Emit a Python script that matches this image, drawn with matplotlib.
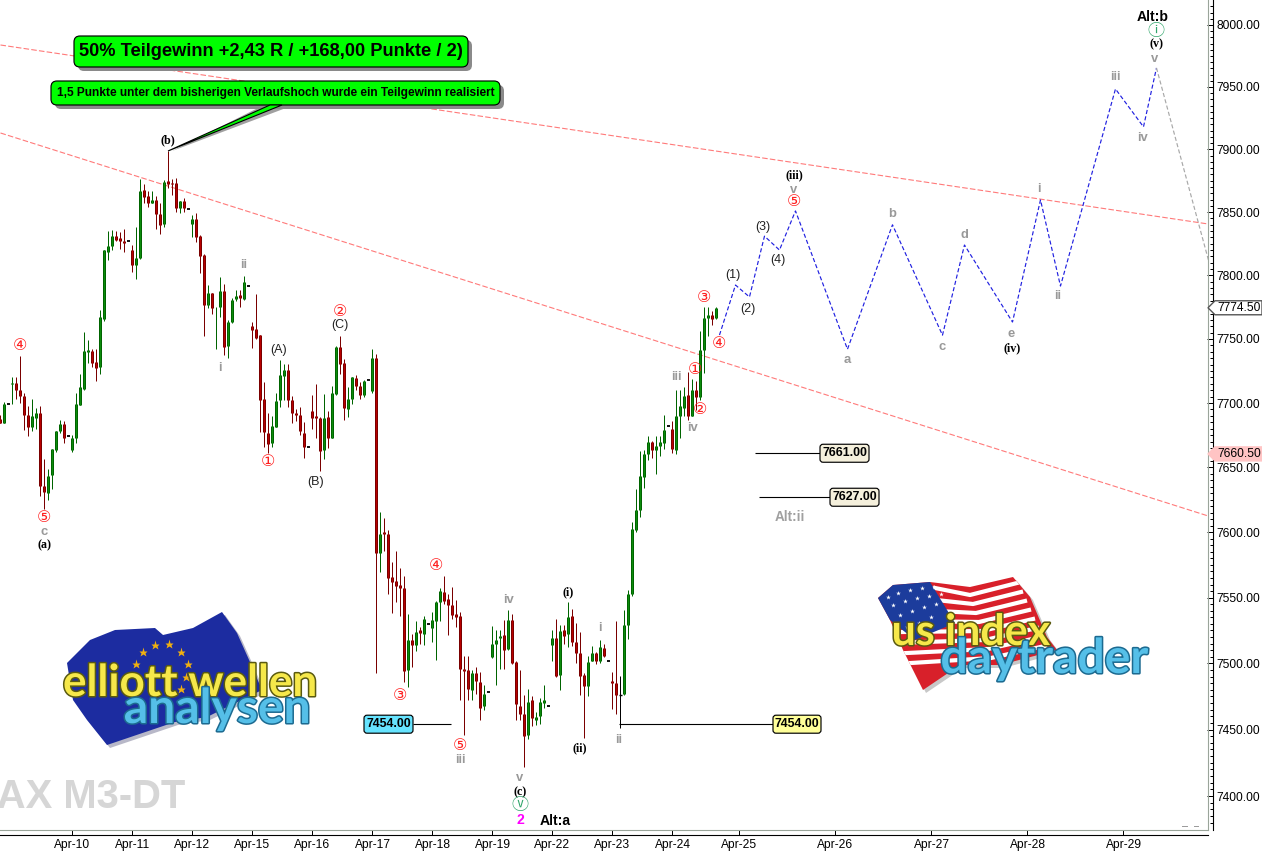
import matplotlib
matplotlib.use('Agg')
import matplotlib.pyplot as plt
import matplotlib.patheffects as pe
from matplotlib.lines import Line2D
from matplotlib.patches import Polygon, FancyBboxPatch
from matplotlib.ticker import NullFormatter
from matplotlib.transforms import Affine2D

# 15 minute style bars, one value per bar
opens = [7687.5,7684.5,7699.5,7714.5,7715.5,7710.5,7705.5,7690.5,7681,7688.5,
         7692,7635.5,7630.5,7644,7663.5,7678.5,7683.5,7674,7663.5,7673,
         7698.5,7711,7739.5,7740.5,7732,7728,7765.5,7818.5,7823,7831.5,
         7829.5,7827.5,7827,7820,7808.5,7813.5,7868,7862.5,7857,7860,
         7848.5,7841,7874.5,7873.5,7873,7853,7858.5,7852.5,7840.5,7844.5,
         7831.5,7816,7776.5,7786,7774,7775.5,7787.5,7744.5,7763,7781.5,
         7784.5,7781.5,7792,7760,7758,7753,7703.5,7677,7669,7681.5,
         7702,7721,7725.5,7702.5,7692,7690.5,7676.5,7665.5,7694,7690,
         7688.5,7663.5,7689,7673,7707,7744,7731,7695.5,7703,7719.5,
         7713,7706,7718,7709,7735,7584,7600.5,7599,7566,7562.5,
         7559.5,7557.5,7495,7517.5,7514,7525,7522,7530,7527,7532.5,
         7546.5,7554.5,7549,7544.5,7537.5,7536,7496,7495,7480,7493,
         7486,7467.5,7478.5,7505,7515,7519.5,7521.5,7511,7533,7501,
         7468,7461.5,7445.5,7472,7457,7460,7470,7468,7514,7519,
         7491.5,7525.5,7522,7536,7516,7508,7491.5,7483,7501.5,7508,
         7502,7512,7502,7487,7485,7476,7477,7529,7553,7602,
         7617,7643,7660.5,7669.5,7663.5,7666.5,7669,7682,7680,7663.5,
         7690,7696,7706,7690,7710.5,7704.5,7741.5,7766.5,7769,7766.5]
highs = [7691,7700.5,7699.5,7720.5,7720.5,7736.5,7708,7697.5,7703,7696,
         7697.5,7656.5,7648.5,7664.5,7678,7687,7686,7674,7675,7707.5,
         7723,7755.5,7749,7742,7742,7772.5,7820,7835,7835.5,7835,
         7834.5,7836.5,7827,7824,7838,7876.5,7872,7867,7866.5,7862.5,
         7857.5,7875.5,7898.5,7876,7877,7859,7861.5,7852.5,7848,7849,
         7832,7816.5,7792.5,7786.5,7775,7799,7793.5,7765,7782,7788.5,
         7788.5,7799.5,7792,7763.5,7785.5,7753.5,7716,7692,7690,7707.5,
         7733.5,7730.5,7730.5,7705.5,7695,7697,7685.5,7665.5,7706.5,7715,
         7689,7707,7693.5,7713,7744.5,7752.5,7734.5,7712.5,7720.5,7721.5,
         7716.5,7718,7718,7742,7738.5,7615.5,7611,7602,7577.5,7586,
         7572.5,7566.5,7537.5,7522.5,7532,7527.5,7536,7530,7539,7547.5,
         7557.5,7566.5,7553,7558,7548,7539,7505.5,7505.5,7495,7497.5,
         7493.5,7483.5,7478.5,7528,7525.5,7525,7533,7540.5,7537.5,7501.5,
         7495,7476,7480.5,7475,7463.5,7473.5,7483.5,7468,7525,7534,
         7529,7529,7546.5,7541,7530.5,7523.5,7492.5,7505.5,7513,7508.5,
         7518,7515,7502,7493.5,7532,7490.5,7540.5,7555.5,7608,7633.5,
         7663,7663.5,7674.5,7670.5,7674.5,7674.5,7690.5,7682,7686,7710.5,
         7710,7712.5,7724,7719,7717.5,7756,7775,7775.5,7772,7775]
lows = [7684.5,7684.5,7699.5,7699.5,7703,7700,7679,7674,7678.5,7679.5,
        7628,7618,7624.5,7633.5,7662,7676.5,7669,7674,7662,7669,
        7698.5,7710.5,7731,7728,7717.5,7723,7764,7812,7820,7827,
        7821,7818.5,7827,7802.5,7797.5,7813,7857,7854,7857,7837,
        7833,7838.5,7869.5,7863.5,7850,7849,7850,7852.5,7830.5,7826,
        7801.5,7752,7774,7769.5,7742.5,7767.5,7737.5,7735.5,7762.5,7780,
        7775,7781,7792,7743,7750,7677.5,7666,7661,7666,7681,
        7697,7702.5,7697,7684.5,7686,7675,7657.5,7665.5,7679.5,7673,
        7647.5,7656.5,7665,7673,7706.5,7722.5,7686.5,7689.5,7699.5,7710,
        7703.5,7705,7718,7707.5,7492.5,7569.5,7586,7553,7538.5,7547,
        7536,7486,7482,7497.5,7509,7515,7514,7530,7516,7502.5,
        7532.5,7545.5,7521.5,7533.5,7527.5,7472.5,7445.5,7472,7472.5,7477,
        7457,7465,7478.5,7504,7483.5,7496,7496,7510.5,7499.5,7457,
        7457,7421.5,7443,7453,7453.5,7454,7466,7468,7502,7490,
        7480,7514.5,7512.5,7513.5,7500.5,7476,7443.5,7475.5,7501.5,7499.5,
        7500.5,7504.5,7502,7465.5,7462,7451,7476,7518.5,7551,7600,
        7612,7634.5,7655.5,7657.5,7645,7659,7664.5,7682,7661,7660.5,
        7673,7690,7687,7690,7694.5,7702,7723.5,7752,7761,7766]
closes = [7684.5,7699.5,7699.5,7715.5,7710,7705.5,7691,7681,7690,7692,
          7636,7631,7643.5,7664,7678,7684,7673,7674,7673,7699.5,
          7712.5,7740.5,7741.5,7731.5,7727,7767,7820,7823.5,7831.5,7828,
          7827,7825.5,7827,7808.5,7813.5,7867,7862,7857,7860,7848.5,
          7840,7874,7872,7872,7853,7858.5,7853,7852.5,7844.5,7830,
          7815,7777,7786.5,7774,7774.5,7787.5,7744,7763.5,7781,7783.5,
          7782,7795,7792,7757,7751,7702.5,7677.5,7668,7682,7701.5,
          7722,7725.5,7702,7692.5,7691,7678.5,7666,7665.5,7688,7688,
          7663,7688,7673,7707.5,7744,7730.5,7696.5,7703,7720,7713,
          7706,7717,7718,7735,7584,7599,7599,7565,7562,7558.5,
          7557.5,7494.5,7517.5,7514,7523.5,7523,7534,7530,7533,7546.5,
          7555,7547.5,7544,7537,7535,7495.5,7494.5,7480.5,7492.5,7486.5,
          7466.5,7477,7478.5,7515,7518,7520.5,7510.5,7533,7500,7469,
          7461.5,7445,7471,7458.5,7459.5,7470.5,7472,7468,7519,7490.5,
          7524.5,7521,7535,7516.5,7507.5,7490.5,7482.5,7501,7507.5,7502,
          7512.5,7505.5,7502,7485,7476,7476,7529,7553,7602.5,7617.5,
          7643.5,7660.5,7669.5,7663.5,7667,7670,7679,7682,7664.5,7690,
          7697.5,7705.5,7690,7710.5,7704.5,7741.5,7766.5,7769,7765.5,7774.5]

# projected wave path (x in bars)
wave_x = [179.75,183.75,187.25,191,194.75,198.75,211.75,223,235.5,241,253,260,265,278.75,285.75,289]
wave_p = [7753.1,7792.4,7783,7831,7820,7851,7742,7840,7753,7824,7763.3,7859.7,7791.6,7948.4,7918,7965.3]
alt_x = [289,302]
alt_p = [7965.3,7812]

# trend lines
trend1_x = [0,302]
trend1_p = [7983.8,7840.6]
trend2_x = [0,302]
trend2_p = [7913.1,7612.5]

# price axis
price_ticks = [8000,7950,7900,7850,7800,7750,7700,7650,7600,7550,7500,7450,7400]
price_minor = list(range(7380,8020,5))
date_labels = ['Apr-10','Apr-11','Apr-12','Apr-15','Apr-16','Apr-17','Apr-18','Apr-19','Apr-22',
               'Apr-23','Apr-24','Apr-25','Apr-26','Apr-27','Apr-28','Apr-29']
date_bars = [18,33,48,63,78,93,108,123,138,153,168,184.75,208.75,232.75,256.75,280.75]

W, H = 1262, 852
SANS = 'Liberation Sans'
SERIF = 'Liberation Serif'
CIRCLED = ['Noto Sans CJK JP', 'DejaVu Sans']

def fpx(px):
    # font size for a height given in pixels
    return px * 0.72

fig = plt.figure(figsize=(W / 100, H / 100), dpi=100, facecolor='white')
ax = fig.add_axes([0, (H - 830) / H, 1208 / W, 830 / H])
ax.set_yscale('log')
ax.set_ylim(7374.7, 8020.2)
ax.set_xlim(-0.12, 301.88)

# pixel coordinates, origin top left like the screenshot
PX = Affine2D().scale(1, -1).translate(0, H)

# trend lines under everything
ax.plot(trend1_x, trend1_p, color='#ff7a7a', lw=0.8, dashes=(5, 2), zorder=1)
ax.plot(trend2_x, trend2_p, color='#ff7a7a', lw=0.8, dashes=(5, 2), zorder=1)

# candles
for i in range(len(opens)):
    o, h, l, c = opens[i], highs[i], lows[i], closes[i]
    if h == l:
        ax.hlines(c, i - 0.4, i + 0.4, color='black', lw=1.3, zorder=3)
        continue
    if o == c:
        ax.vlines(i, l, h, color='black', lw=0.72, zorder=3, snap=True)
        ax.hlines(c, i - 0.3, i + 0.3, color='black', lw=1.0, zorder=3)
        continue
    if c > o:
        edge, fill = '#006400', '#0c8c0c'
    else:
        edge, fill = '#7a0000', '#b80000'
    ax.vlines(i, l, h, color=edge, lw=0.72, zorder=2, snap=True)
    ax.vlines(i, min(o, c), max(o, c), color=edge, lw=2.16, zorder=3, snap=True, capstyle='butt')
    ax.vlines(i, min(o, c), max(o, c), color=fill, lw=0.72, zorder=3.1, snap=True, capstyle='butt')

# forecast
ax.plot(wave_x, wave_p, color='#2020e0', lw=0.85, dashes=(3.5, 2), zorder=4)
ax.plot(alt_x, alt_p, color='#a8a8a8', lw=0.85, dashes=(3.5, 2), zorder=4, clip_on=False)

# axes
for s in ['top', 'left']:
    ax.spines[s].set_visible(False)
ax.spines['right'].set_position(('outward', 3.6))
ax.spines['bottom'].set_position(('outward', 3.6))
ax.yaxis.tick_right()
ax.set_yticks(price_ticks, ['%.2f' % p for p in price_ticks])
ax.set_yticks(price_minor, minor=True)
ax.yaxis.set_minor_formatter(NullFormatter())
ax.set_xticks(date_bars, date_labels)
ax.tick_params(axis='y', which='major', direction='in', length=4.3, width=0.72, pad=2.6, labelsize=fpx(12))
ax.tick_params(axis='y', which='minor', direction='in', length=2.2, width=0.72)
ax.tick_params(axis='x', direction='in', length=3.6, width=0.72, pad=3, labelsize=fpx(12))
for lab in ax.get_xticklabels() + ax.get_yticklabels():
    lab.set_family(SANS)
fig.add_artist(Line2D([0, 1208], [830, 830], color='#9aa59a', lw=0.8, transform=PX))
fig.add_artist(Line2D([1208, 1208], [0, 830], color='#9aa59a', lw=0.8, transform=PX))
fig.add_artist(Line2D([1182, 1187], [826, 826], color='#999999', lw=0.7, transform=PX))
fig.add_artist(Line2D([1194, 1198], [826, 826], color='#999999', lw=0.7, transform=PX))


def label(x, y, s, color='black', size=12, family=SANS, weight='normal', ha='center', z=6):
    fig.text(x, y, s, color=color, fontsize=fpx(size), family=family, weight=weight,
             ha=ha, va='center', transform=PX, zorder=z)

def red(x, y, s):
    label(x, y, s, color='#ff2020', size=16, family='DejaVu Sans')

def grey(x, y, s):
    label(x, y, s, color='#999999', size=13, weight='bold')

def serif(x, y, s):
    label(x, y, s, size=12, family=SERIF, weight='bold')

def plain(x, y, s):
    label(x, y, s, color='#222222', size=12.5)

# wave counts
for x, y, s in [(20, 346, '④'), (44, 517, '⑤'), (340, 311, '②'), (268, 462, '①'), (400, 696, '③'),
                (436, 565, '④'), (460, 745, '⑤'), (695, 370, '①'), (700, 409, '②'), (704, 297, '③'),
                (719, 343, '④'), (794, 202, '⑤')]:
    red(x, y, s)
for x, y, s in [(44, 532, 'c'), (244, 265, 'ii'), (220, 368, 'i'), (460, 760, 'iii'), (508, 600, 'iv'),
                (520, 778, 'v'), (600, 628, 'i'), (619, 740, 'ii'), (676, 377, 'iii'), (692, 428, 'iv'),
                (794, 190, 'v'), (847, 360, 'a'), (892, 214, 'b'), (942, 347, 'c'), (964, 235, 'd'),
                (1011, 334, 'e'), (1039, 189, 'i'), (1058, 296, 'ii'), (1115, 77, 'iii'), (1143, 138, 'iv'),
                (1155, 59, 'v')]:
    grey(x, y, s)
for x, y, s in [(44, 545, '(a)'), (168, 140, '(b)'), (520, 792, '(c)'), (568, 592, '(i)'), (580, 748, '(ii)'),
                (794, 175, '(iii)'), (1012, 348, '(iv)'), (1156, 44, '(v)')]:
    serif(x, y, s)
for x, y, s in [(279, 350, '(A)'), (340, 325, '(C)'), (316, 482, '(B)'), (733, 275, '(1)'), (748, 309, '(2)'),
                (763, 227, '(3)'), (778, 260, '(4)')]:
    plain(x, y, s)
label(520, 805, 'ⓥ', color='#2fa56a', size=17, family=CIRCLED)
label(1156, 31, 'ⓘ', color='#2fa56a', size=17, family=CIRCLED)
label(520, 820, '2', color='#ff00ff', size=14, weight='bold')
label(555, 821, 'Alt:a', size=14, weight='bold')
label(1153, 17, 'Alt:b', size=14, weight='bold')
label(790, 517, 'Alt:ii', color='#a0a0a0', size=13.5, weight='bold')

# watermark, left part runs off the picture
label(185, 797, 'DAX M3-DT', color='#d6d6d6', size=40, weight='bold', ha='right', z=1)


def box(x0, y0, x1, y1, fc, r=4, shadow=0, z=7):
    if shadow:
        fig.add_artist(FancyBboxPatch((x0 + shadow, y0 + shadow), x1 - x0, y1 - y0, boxstyle='round,pad=0,rounding_size=%s' % r,
                                      fc='#8a8a8a', ec='none', transform=PX, zorder=z - 0.5))
    fig.add_artist(FancyBboxPatch((x0, y0), x1 - x0, y1 - y0, boxstyle='round,pad=0,rounding_size=%s' % r,
                                  fc=fc, ec='black', lw=0.85, transform=PX, zorder=z))

# callouts
fig.add_artist(Polygon([[172, 151], [286, 108], [262, 106]], closed=True, fc='#a0a0a0', ec='none', transform=PX, zorder=6))
box(74, 36, 468, 67, '#00ff00', r=6, shadow=4)
label(271, 51.5, '50% Teilgewinn +2,43 R / +168,00 Punkte / 2)', size=18.3, weight='bold', z=8)
box(51, 81, 500, 105, '#00ff00', r=6, shadow=4)
fig.add_artist(Polygon([[168, 151], [282, 105], [270, 105]], closed=True, fc='#00ff00', ec='black', lw=0.8, transform=PX, zorder=8))
label(275.5, 93, '1,5 Punkte unter dem bisherigen Verlaufshoch wurde ein Teilgewinn realisiert', size=11.9, weight='bold', z=8)


def level(price, x0, x1, box_x0, box_x1, fc):
    ax.hlines(price, x0 / 4, x1 / 4, color='black', lw=0.8, zorder=5)
    y = H - ax.transData.transform((0, price))[1]
    box(box_x0, y - 9, box_x1, y + 9, fc, r=3)
    label((box_x0 + box_x1) / 2, y, '%.2f' % price, size=12.4, weight='bold', z=8)

level(7454.0, 413, 451, 364, 413, '#66e4ff')
level(7454.0, 619, 775, 773, 821, '#ffff99')
level(7661.0, 755, 820, 820, 869, '#f5f0dc')
level(7627.0, 759, 830, 830, 879, '#f5f0dc')


def price_tag(price, fc, ec):
    y = H - ax.transData.transform((0, price))[1]
    fig.add_artist(Polygon([[1208, y], [1215, y - 7], [1262, y - 7], [1262, y + 7], [1215, y + 7]], closed=True,
                           fc=fc, ec=ec, lw=1.0, transform=PX, zorder=5))
    label(1217, y, '%.2f' % price, size=12, ha='left', z=6)

price_tag(7774.5, 'white', '#555555')
price_tag(7660.5, '#ffc4c4', '#ffc4c4')


def shape(points, fc, z=1.5, clip=None):
    p = Polygon(points, closed=True, fc=fc, ec='none', transform=PX, zorder=z)
    fig.add_artist(p)
    return p

def logo_text(x, y, s, fc, ec, size, ha='center'):
    t = fig.text(x, y, s, color=fc, fontsize=fpx(size), family='Lato', weight='bold', ha='center', va='center',
                 transform=PX, zorder=2.5)
    t.set_path_effects([pe.withStroke(linewidth=2.2, foreground=ec)])

# left logo
eu_flag = [[67, 663], [90, 640], [115, 630], [155, 628], [163, 635], [193, 628], [222, 612], [237, 633], [250, 662],
           [262, 690], [207, 717], [175, 722], [107, 745], [87, 720], [73, 700]]
shape([[a + 3, b + 3] for a, b in eu_flag], '#b8b8c8', z=1.4)
shape(eu_flag, '#1c2ca0')
star_x = [143, 155, 169, 181, 188, 186, 181, 136]
star_y = [652, 645, 644, 652, 664, 677, 689, 664]
fig.add_artist(Line2D(star_x, star_y, ls='none', marker='*', ms=6.5, color='#f0b010', mec='none', transform=PX, zorder=1.7))
logo_text(190, 683, 'elliott wellen', '#f6e84a', '#5a5a10', 44)
logo_text(217, 709, 'analysen', '#55bfe8', '#1c6a90', 48)

# right logo
us_flag = [[878, 598], [893, 585], [930, 582], [970, 587], [1013, 577], [1030, 597], [1047, 637], [1057, 650],
           [1000, 665], [960, 665], [923, 690], [903, 650], [890, 620]]
shape([[a + 3, b + 3] for a, b in us_flag], '#c8c8c8', z=1.4)
us = shape(us_flag, '#d8202a')
for k in range(8):
    stripe = Line2D([935 - 8 * k, 970 + 3 * k, 1017 + 4 * k], [588 + 11 * k, 595 + 9 * k, 583 + 9 * k],
                    color='white', lw=3.0, transform=PX, zorder=1.55)
    fig.add_artist(stripe)
    stripe.set_clip_path(us.get_path(), us.get_transform())
shape([[878, 598], [893, 585], [930, 582], [955, 623], [915, 640], [890, 620]], '#1c3c9c', z=1.6)
star_x = [888, 898, 910, 922, 934, 893, 905, 917, 929, 941, 900, 912, 924, 936, 907, 919, 931]
star_y = [597, 593, 590, 588, 587, 605, 601, 598, 596, 594, 615, 611, 607, 604, 627, 623, 617]
fig.add_artist(Line2D(star_x, star_y, ls='none', marker='*', ms=3.5, color='white', mec='none', transform=PX, zorder=1.7))
logo_text(971, 632, 'us index', '#f6e84a', '#5a5a10', 43)
logo_text(1044, 659, 'daytrader', '#55bfe8', '#1c6a90', 48)

fig.savefig('out.png', dpi=100)
